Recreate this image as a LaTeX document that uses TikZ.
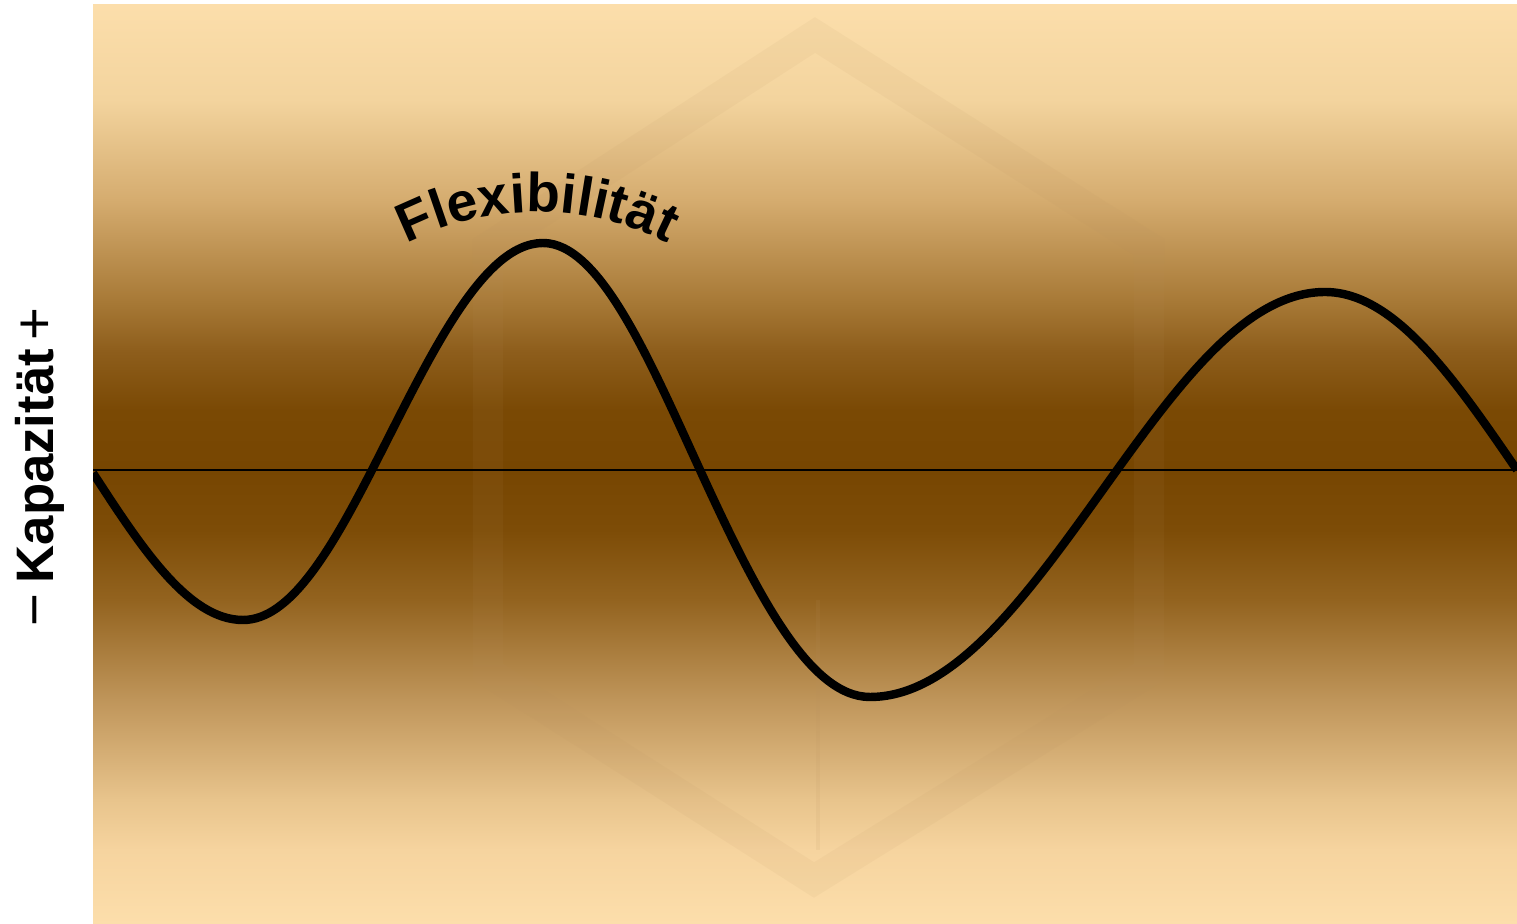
\documentclass[tikz,border=0pt]{standalone}
\usepackage{fontspec}
\setmainfont{Liberation Sans}
\usetikzlibrary{decorations.text}
\definecolor{c00}{HTML}{FCDEAB}
\definecolor{c08}{HTML}{F6D49F}
\definecolor{c13}{HTML}{E8C48C}
\definecolor{c24}{HTML}{BF955A}
\definecolor{c35}{HTML}{93631F}
\definecolor{c43}{HTML}{7D4C07}
\definecolor{c49}{HTML}{774601}
\definecolor{c56}{HTML}{7A4904}
\definecolor{c62}{HTML}{8E5E1C}
\definecolor{c68}{HTML}{A87A37}
\definecolor{c79}{HTML}{D5AC6F}
\definecolor{c90}{HTML}{F3D49E}
\definecolor{markcol}{HTML}{B89060}
\pgfdeclareverticalshading{bgshade}{100bp}{%
  color(0bp)=(c00); color(25bp)=(c00); color(29.03bp)=(c08); color(31.75bp)=(c13);
  color(37.2bp)=(c24); color(42.65bp)=(c35); color(46.45bp)=(c43);
  color(49.7bp)=(c49); color(52.95bp)=(c56); color(56.2bp)=(c62);
  color(58.95bp)=(c68); color(64.4bp)=(c79); color(69.85bp)=(c90);
  color(75bp)=(c00); color(100bp)=(c00)}
\newcommand{\flexfont}{\fontsize{15.6pt}{15.6pt}\selectfont\bfseries}
\newcommand{\signfont}{\fontsize{16pt}{18pt}\selectfont\mdseries}
\begin{document}
\begin{tikzpicture}[x=0.01cm,y=0.01cm,
  wave/.style={line width=2.4pt,black,line join=round},
  axisline/.style={line width=0.6pt,black},
  watermark/.style={markcol,opacity=0.08,line width=0.3cm,line join=miter},
  watermarkthin/.style={markcol,opacity=0.1,line width=1.2pt}]
\useasboundingbox (0,0) rectangle (1517,924);
% background panel
\shade[shading=bgshade] (93,0) rectangle (1517,919);
\coordinate (panelSW) at (93,0);
\coordinate (panelNE) at (1517,919);
% faint cube watermark
\coordinate (hT) at (815,889);
\coordinate (hUR) at (1149,677);
\coordinate (hLR) at (1149,252);
\coordinate (hB) at (814,44);
\coordinate (hLL) at (488,252);
\coordinate (hUL) at (488,677);
\draw[watermark] (hT) -- (hUR) -- (hLR) -- (hB) -- (hLL) -- (hUL) -- cycle;
\coordinate (vTop) at (818,324);
\coordinate (vBot) at (818,74);
\draw[watermarkthin] (vTop) -- (vBot);
% axis
\coordinate (axL) at (93,454);
\coordinate (axR) at (1517,454);
\draw[axisline] (axL) -- (axR);
% wave
\coordinate (z0) at (93,451);
\coordinate (e1) at (243,304);
\coordinate (z1) at (372,454);
\coordinate (e2) at (543,681);
\coordinate (z2) at (700,454);
\coordinate (e3) at (870,227);
\coordinate (z3) at (1117,454);
\coordinate (e4) at (1325,632);
\coordinate (z4) at (1517,454);
\begin{scope}
\clip (panelSW) rectangle (panelNE);
\draw[wave] (z0) .. controls (141.9,375.7) and (188.7,304) .. (e1)
  .. controls (289.7,304) and (329.9,372) .. (z1)
  .. controls (427.7,562.7) and (481.1,681) .. (e2)
  .. controls (599.8,681) and (648.8,565.6) .. (z2)
  .. controls (755.4,333.2) and (808.5,227) .. (e3)
  .. controls (959.4,227) and (1036.5,342.1) .. (z3)
  .. controls (1184.8,548.2) and (1249.7,632) .. (e4)
  .. controls (1394.5,632) and (1454.4,545.4) .. (z4);
\end{scope}
% curved label
\coordinate (arcStart) at (409.8,682.2);
\path[decorate,decoration={text along path,text align=center,
  text={|\flexfont|Flexibilität}}]
  (arcStart) arc[start angle=116.4,end angle=63.6,radius=2.86cm];
% vertical axis label
\node[rotate=90,anchor=base,inner sep=0pt] (kap) at (53,457)
  {{\signfont −}\hspace{0.3em}{\fontsize{15pt}{18pt}\selectfont\bfseries Kapazität}\hspace{0.25em}{\signfont +}};
\end{tikzpicture}
\end{document}
